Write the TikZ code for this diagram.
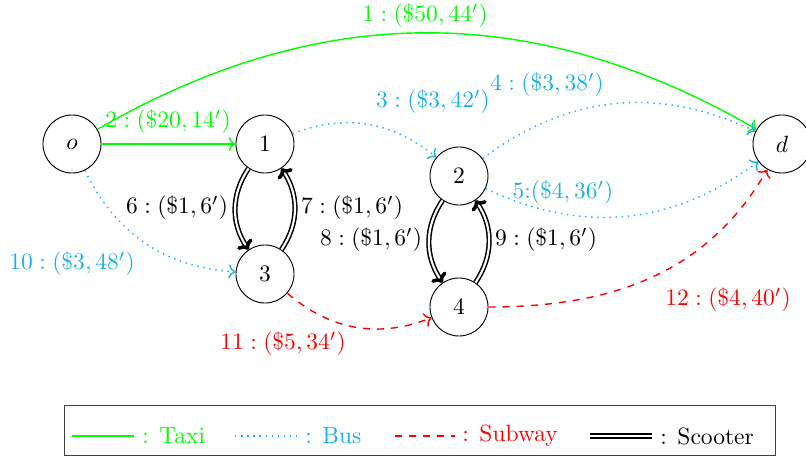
\documentclass[tikz,border=0pt]{standalone}
\usetikzlibrary{arrows.meta}
\definecolor{taxi}{RGB}{0,255,0}
\definecolor{bus}{RGB}{27,177,231}
\definecolor{subway}{RGB}{255,0,0}
\begin{document}
\begin{tikzpicture}[x=0.4255pt,y=0.4255pt,
  station/.style={circle,draw,minimum size=24.7pt,inner sep=0pt},
  taxiline/.style={taxi,semithick,->},
  busline/.style={bus,semithick,dotted,->},
  subline/.style={subway,semithick,dashed,->},
  scooterpair/.style={double,line width=0.65pt,double distance=0.9pt},
  scooterline/.style={scooterpair,-{To[line width=1.5pt,length=3.5pt,width=7.5pt]}},
  lbl/.style={inner sep=1pt}]
\useasboundingbox (0,0) rectangle (806,-457);

% stations
\node[station] (o)  at (72,-144)  {$o$};
\node[station] (n1) at (265,-144) {$1$};
\node[station] (n2) at (459,-176) {$2$};
\node[station] (n3) at (265,-274) {$3$};
\node[station] (n4) at (459,-307) {$4$};
\node[station] (d)  at (782,-144) {$d$};

% taxi
\draw[taxiline] (o) to[bend left=30] (d);
\draw[taxiline] (o) -- (n1);
% bus
\draw[busline] (n1) to[bend left=30] (n2);
\draw[busline] (n2) to[bend left=31] (d);
\draw[busline] (n2) to[bend right=31] (d);
\draw[busline] (o) to[bend right=30] (n3);
% subway
\draw[subline] (n3) to[bend right=31] (n4);
\draw[subline] (n4) to[out=0,in=-120] (d);
% scooter
\draw[scooterline] (n1) to[bend right=34] (n3);
\draw[scooterline] (n3) to[bend right=34] (n1);
\draw[scooterline] (n2) to[bend right=34] (n4);
\draw[scooterline] (n4) to[bend right=34] (n2);

% edge labels
\node[lbl,text=taxi] (l1) at (425,-16) {$1:(\$50,44')$};
\node[lbl,text=taxi] (l2) at (168,-122) {$2:(\$20,14')$};
\node[lbl,text=bus] (l3) at (433,-102) {$3:(\$3,42')$};
\node[lbl,text=bus] (l4) at (547,-85) {$4:(\$3,38')$};
\node[lbl,text=bus] (l5) at (563,-193) {$5{:}(\$4,36')$};
\node[lbl] (l6) at (177,-208) {$6:(\$1,6')$};
\node[lbl] (l7) at (352,-208) {$7:(\$1,6')$};
\node[lbl] (l8) at (371,-240) {$8:(\$1,6')$};
\node[lbl] (l9) at (546,-240) {$9:(\$1,6')$};
\node[lbl,text=bus] (l10) at (72,-264) {$10:(\$3,48')$};
\node[lbl,text=subway] (l11) at (283,-344) {$11:(\$5,34')$};
\node[lbl,text=subway] (l12) at (728,-300) {$12:(\$4,40')$};

% legend
\node[draw=black!75,minimum width=711*0.4255pt,minimum height=50*0.4255pt,inner sep=0pt]
  (legend) at (419.5,-430) {};
\coordinate (ta) at (72,-436);  \coordinate (tb) at (134,-436);
\coordinate (ba) at (235,-436); \coordinate (bb) at (297,-436);
\coordinate (sa) at (395,-436); \coordinate (sb) at (455,-436);
\coordinate (ka) at (590,-436); \coordinate (kb) at (652,-436);
\draw[taxi,semithick] (ta) -- (tb);
\draw[bus,semithick,dotted] (ba) -- (bb);
\draw[subway,semithick,dashed] (sa) -- (sb);
\draw[scooterpair] (ka) -- (kb);
\node[anchor=west,text=taxi,inner sep=0pt] (lt) at (142,-436) {: Taxi};
\node[anchor=west,text=bus,inner sep=0pt] (lb) at (305,-436) {: Bus};
\node[anchor=west,text=subway,inner sep=0pt] (ls) at (462,-436) {: Subway};
\node[anchor=west,inner sep=0pt] (lk) at (660,-436) {: Scooter};
\end{tikzpicture}
\end{document}
